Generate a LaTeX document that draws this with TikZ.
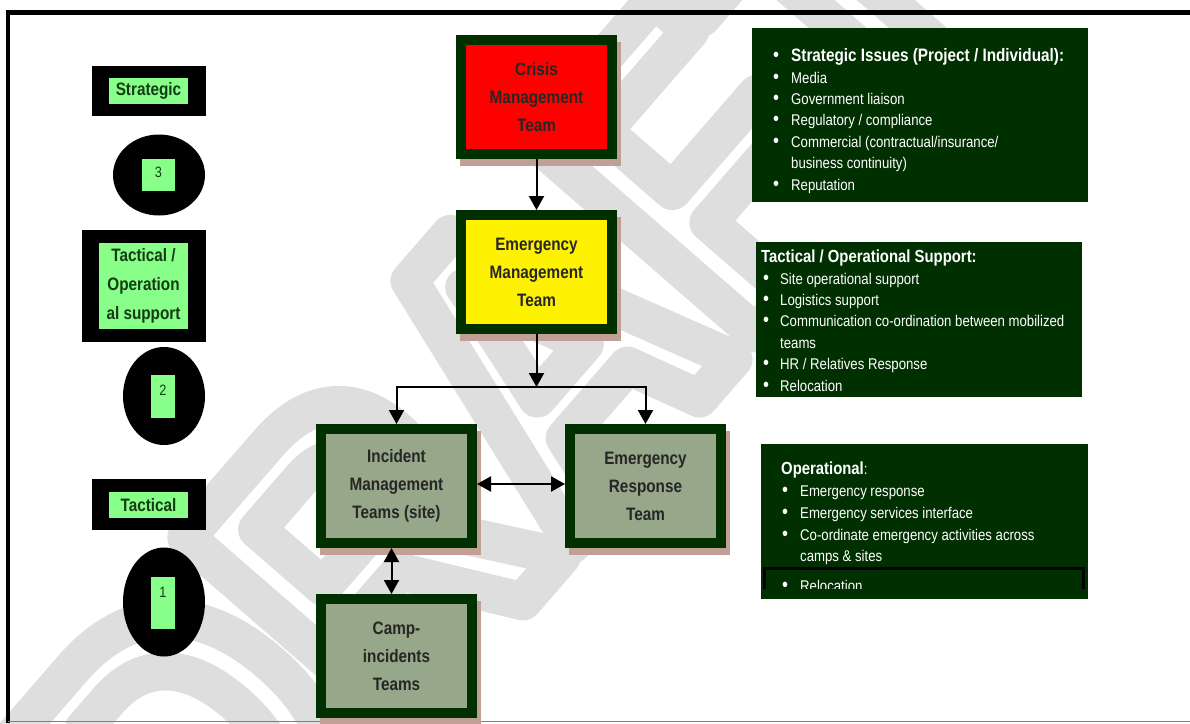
\documentclass[tikz,border=0pt]{standalone}
\usepackage{fontspec}
\setmainfont{Liberation Sans}[FakeStretch=0.85]
\usetikzlibrary{positioning, arrows.meta, shapes.geometric}

\definecolor{dkgreen}{RGB}{0,48,0}
\definecolor{sage}{RGB}{150,167,138}
\definecolor{tagc}{RGB}{136,255,136}
\definecolor{tagtxt}{RGB}{20,60,20}
\definecolor{shadowc}{RGB}{192,160,148}
\definecolor{wmarkc}{RGB}{222,222,222}

% list bullet, a bit heavier than the text one
\newcommand{\blt}{{\fontsize{20}{10}\selectfont\textbullet}}

\begin{document}
\begin{tikzpicture}[
    x=1pt, y=-1pt,
    every node/.style={font=\bfseries\fontsize{18}{28}\selectfont},
    team/.style={rectangle, draw=dkgreen, line width=10pt, fill=#1, align=center,
        minimum width=151pt, minimum height=114pt, inner sep=0pt, text=black!85,
        preaction={draw=shadowc, fill=shadowc, transform canvas={xshift=4pt, yshift=-7pt}}},
    team/.default=sage,
    lvlbox/.style={rectangle, fill=black, inner sep=0pt},
    lvlnum/.style={ellipse, fill=black, inner sep=0pt},
    lvltag/.style={rectangle, fill=tagc, text=tagtxt, inner sep=0pt, align=center},
    numtag/.style={lvltag, font=\fontsize{15}{18}\selectfont},
    panel/.style={rectangle, fill=dkgreen, inner sep=0pt, anchor=north west},
    listtxt/.style={anchor=north west, inner sep=0pt, text=white, font=\fontsize{15.5}{21.4}\selectfont},
    wmark/.style={rotate=49, text=wmarkc, inner sep=0pt, font=\bfseries\fontsize{430}{430}\selectfont},
    arr/.style={-{Triangle[length=14pt, width=15pt]}, line width=2pt},
    dblarr/.style={{Triangle[length=14pt, width=15pt]}-{Triangle[length=14pt, width=15pt]}, line width=2pt},
]
    \useasboundingbox (0,0) rectangle (1190,723);

    % --- watermark (outlined letters) ---
    \node[wmark] (draft) at (515,385)
        {\special{pdf:literal direct 1 Tr 38 w 1 J 1 j}DRAFT\special{pdf:literal direct 0 Tr}};

    % --- page frame ---
    \draw[line width=5pt] (6,12.5) -- (1190,12.5);
    \draw[line width=4pt] (8,10.5) -- (8,723);
    \draw[gray, line width=1pt] (8,721) -- (1190,721);

    % --- level markers, left column (top to bottom) ---
    \node[lvlbox, minimum width=114, minimum height=50] (strbox) at (149,91) {};
    \node[lvltag, minimum width=79, minimum height=26] (strtag) at (148.5,91) {Strategic};

    \node[lvlnum, minimum width=92, minimum height=81] (lvl3) at (159,175) {};
    \node[numtag, minimum width=33, minimum height=32] (lvl3tag) at (158.5,175) {\raisebox{3pt}[\height][\depth]{3}};

    \node[lvlbox, minimum width=124, minimum height=112] (tosbox) at (144,286) {};
    \node[lvltag, minimum width=89, minimum height=86, font=\bfseries\fontsize{18}{29}\selectfont] (tostag) at (143.5,286)
        {Tactical /\\Operation\\al support};

    \node[lvlnum, minimum width=82, minimum height=98] (lvl2) at (164,396) {};
    \node[numtag, minimum width=24, minimum height=43] (lvl2tag) at (163,396.5) {\raisebox{6.5pt}[\height][\depth]{2}};

    \node[lvlbox, minimum width=114, minimum height=51] (tacbox) at (149,504.5) {};
    \node[lvltag, minimum width=79, minimum height=26] (tactag) at (148.5,505) {Tactical};

    \node[lvlnum, minimum width=82, minimum height=109] (lvl1) at (164,602) {};
    \node[numtag, minimum width=24, minimum height=52] (lvl1tag) at (163,603) {\raisebox{10.5pt}[\height][\depth]{1}};

    % --- team boxes ---
    \node[team=red] (cmt) at (536.5,97) {Crisis\\Management\\Team};
    \node[team=yellow] (emt) at (536.5,272) {Emergency\\Management\\Team};
    \node[team] (imt) at (396.5,486) {Incident\\Management\\Teams (site)};
    \node[team] (ert) at (645.5,486) {Emergency\\Response\\Team};
    \node[team] (camp) at (396.5,656) {Camp-\\incidents\\Teams};

    % branch point under the EMT
    \coordinate (jn) at (536.5,387);

    % --- connectors ---
    \draw[arr] (cmt) -- (emt);
    \draw[arr] (emt) -- (jn);
    \draw[arr] (jn) -| (imt.north);
    \draw[arr] (jn) -| (ert.north);
    \draw[dblarr] ([yshift=2pt]imt.east) -- ([yshift=2pt]ert.west);
    \draw[dblarr] ([xshift=-5pt]imt.south) -- ([xshift=-5pt]camp.north);

    % --- responsibility panels, right column ---
    \node[panel, minimum width=336, minimum height=174] (strpanel) at (752,28) {};
    \node[listtxt] (strlist) at (773,46.6) {%
        \begin{tabular}{@{}p{18pt}@{}l@{}}
        \blt & {\bfseries\fontsize{18}{21.4}\selectfont Strategic Issues (Project / Individual):}\\
        \blt & Media\\
        \blt & Government liaison\\
        \blt & Regulatory / compliance\\
        \blt & Commercial (contractual/insurance/\\
             & business continuity)\\
        \blt & Reputation
        \end{tabular}};

    \node[panel, minimum width=326, minimum height=155] (topanel) at (756,242) {};
    \node[listtxt] (tolist) at (763,247.6) {%
        \begin{tabular}{@{}p{17pt}@{}l@{}}
        \multicolumn{2}{@{}l@{}}{\hspace*{-2pt}\bfseries\fontsize{17.5}{21.4}\selectfont Tactical / Operational Support:}\\
        \blt & Site operational support\\
        \blt & Logistics support\\
        \blt & Communication co-ordination between mobilized\\
             & teams\\
        \blt & HR / Relatives Response\\
        \blt & Relocation
        \end{tabular}};

    \node[panel, minimum width=327, minimum height=155] (oppanel) at (761,444) {};
    \node[listtxt, font=\fontsize{15.5}{21.7}\selectfont] (oplist) at (782,459.6) {%
        \begin{tabular}{@{}p{18pt}@{}l@{}}
        \multicolumn{2}{@{}l@{}}{\hspace*{-1pt}{\bfseries\fontsize{17.5}{21.7}\selectfont Operational}:}\\
        \blt & Emergency response\\
        \blt & Emergency services interface\\
        \blt & Co-ordinate emergency activities across\\
             & camps \& sites
        \end{tabular}};

    % cut-off last item of the operational panel
    \begin{scope}
        \clip (761,565) rectangle (1088,588);
        \draw[line width=3pt] (764,600) |- (1083,568.5) -- (1083,600);
        \node[listtxt] (opreloc) at (782,576) {%
            \begin{tabular}{@{}p{18pt}@{}l@{}}
            \blt & Relocation
            \end{tabular}};
    \end{scope}
\end{tikzpicture}
\end{document}
